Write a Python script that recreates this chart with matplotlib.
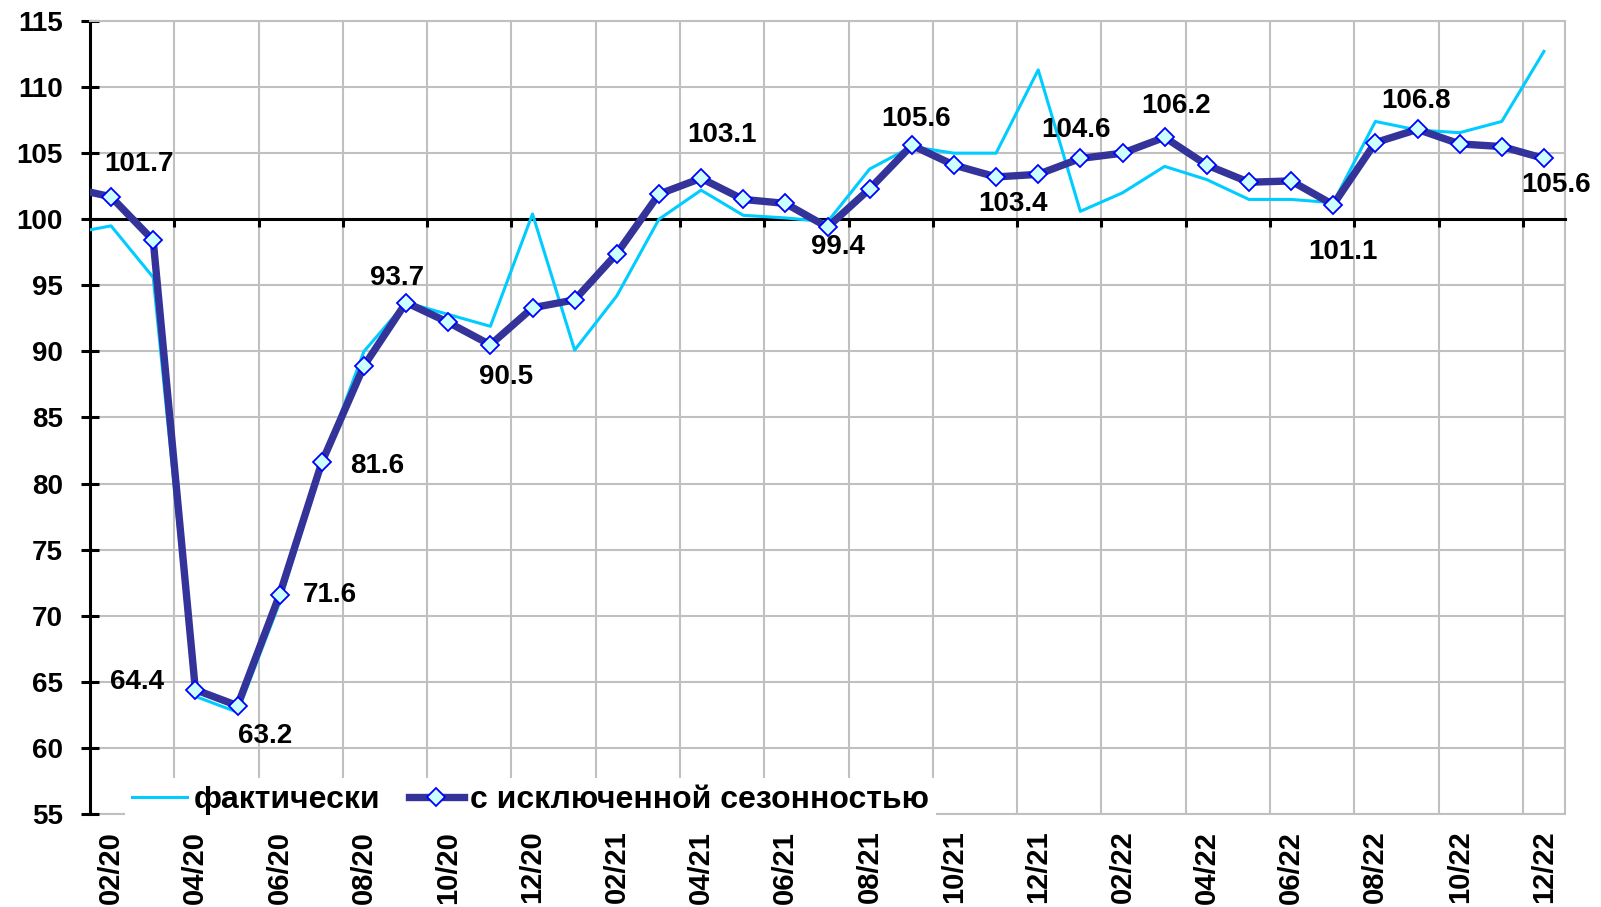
import numpy as np
import matplotlib
matplotlib.use("Agg")
import matplotlib.pyplot as plt

plt.rcParams["font.family"] = ["Liberation Sans", "DejaVu Sans"]
plt.rcParams["font.weight"] = "bold"

# months, 01/20 is only there so the lines run in from the left edge
months = [f"{m:02d}/{y}" for y in (20, 21, 22) for m in range(1, 13)]

actual = [98.9, 99.5, 95.6, 63.9, 62.7, 71.0, 81.4, 90.0, 93.7, 92.8, 91.9, 100.4,
          90.1, 94.2, 100.0, 102.2, 100.3, 100.1, 99.8, 103.8, 105.5, 105.0, 105.0, 111.3,
          100.6, 102.0, 104.0, 103.0, 101.5, 101.5, 101.25, 107.4, 106.75, 106.55, 107.4, 112.7]

seasonal = [102.4, 101.7, 98.4, 64.4, 63.2, 71.6, 81.6, 88.9, 93.7, 92.2, 90.5, 93.3,
            93.9, 97.4, 101.9, 103.1, 101.5, 101.2, 99.4, 102.3, 105.6, 104.1, 103.2, 103.4,
            104.6, 105.0, 106.2, 104.1, 102.8, 102.9, 101.1, 105.8, 106.8, 105.7, 105.5, 104.6]

label_months = ["02/20", "04/20", "05/20", "06/20", "07/20", "09/20", "11/20", "04/21",
                "07/21", "09/21", "12/21", "01/22", "03/22", "07/22", "09/22", "12/22"]
label_texts = ["101.7", "64.4", "63.2", "71.6", "81.6", "93.7", "90.5", "103.1",
               "99.4", "105.6", "103.4", "104.6", "106.2", "101.1", "106.8", "105.6"]
# pixel offsets of each label from its point
label_offsets = [(28, 33), (-58, 8), (28, -30), (50, 0), (55, -4), (-9, 25), (16, -32), (21, 43),
                 (10, -20), (4, 26), (-25, -30), (-4, 28), (11, 31), (10, -47), (-1, 28), (12, -27)]

tick_labels = months[1::2]

x = np.arange(len(months))
grid_x = np.arange(2.5, len(months), 2)

fig = plt.figure(figsize=(16.01, 9.07), dpi=100)
ax = fig.add_axes([90 / 1601, 1 - 814 / 907, 1475 / 1601, 793 / 907])

ax.plot(x, actual, color="#00ccff", lw=2.2, label="фактически", zorder=3)
ax.plot(x, seasonal, color="#333399", lw=5.3, marker="D", ms=9.3,
        mfc="#ccffff", mec="#0000ff", mew=1.3, label="с исключенной сезонностью", zorder=4)

for m, txt, (dx, dy) in zip(label_months, label_texts, label_offsets):
    i = months.index(m)
    ax.annotate(txt, (x[i], seasonal[i]), xytext=(dx, dy), textcoords="offset pixels",
                ha="center", va="center", fontsize=20, fontweight="bold", zorder=6)

ax.set_xlim(0.5, len(months) - 0.5)
ax.set_ylim(55, 115)
ax.set_yticks(np.arange(55, 116, 5))

# x axis crosses at 100, labels stay low
ax.spines["bottom"].set_position(("data", 100))
ax.spines["bottom"].set_linewidth(2.2)
ax.spines["left"].set_linewidth(2.2)
for s in ("top", "right"):
    ax.spines[s].set_color("#c0c0c0")
    ax.spines[s].set_linewidth(1.5)
ax.set_xticks(grid_x)
ax.tick_params(axis="x", direction="out", length=6, width=2.2, labelbottom=False)
ax.tick_params(axis="y", direction="inout", length=13, width=2.2, pad=13, labelsize=20)
ax.grid(True, color="#c0c0c0", lw=1.5)
ax.set_axisbelow(True)

sec = ax.secondary_xaxis("bottom")
sec.set_xticks(x[1::2], tick_labels, rotation=90)
sec.tick_params(length=0, pad=12, labelsize=21)
sec.spines["bottom"].set_color("#c0c0c0")
sec.spines["bottom"].set_linewidth(1.5)

leg = ax.legend(loc="lower left", bbox_to_anchor=(125 / 1601, 1 - 822 / 907),
                bbox_transform=fig.transFigure, ncol=2, frameon=True, fancybox=False,
                facecolor="white", edgecolor="none", framealpha=1, borderaxespad=0,
                borderpad=0.22, handlelength=1.72, handletextpad=0.2, columnspacing=0.9,
                prop={"size": 23, "weight": "bold"})

fig.savefig("out.png", dpi=100)
